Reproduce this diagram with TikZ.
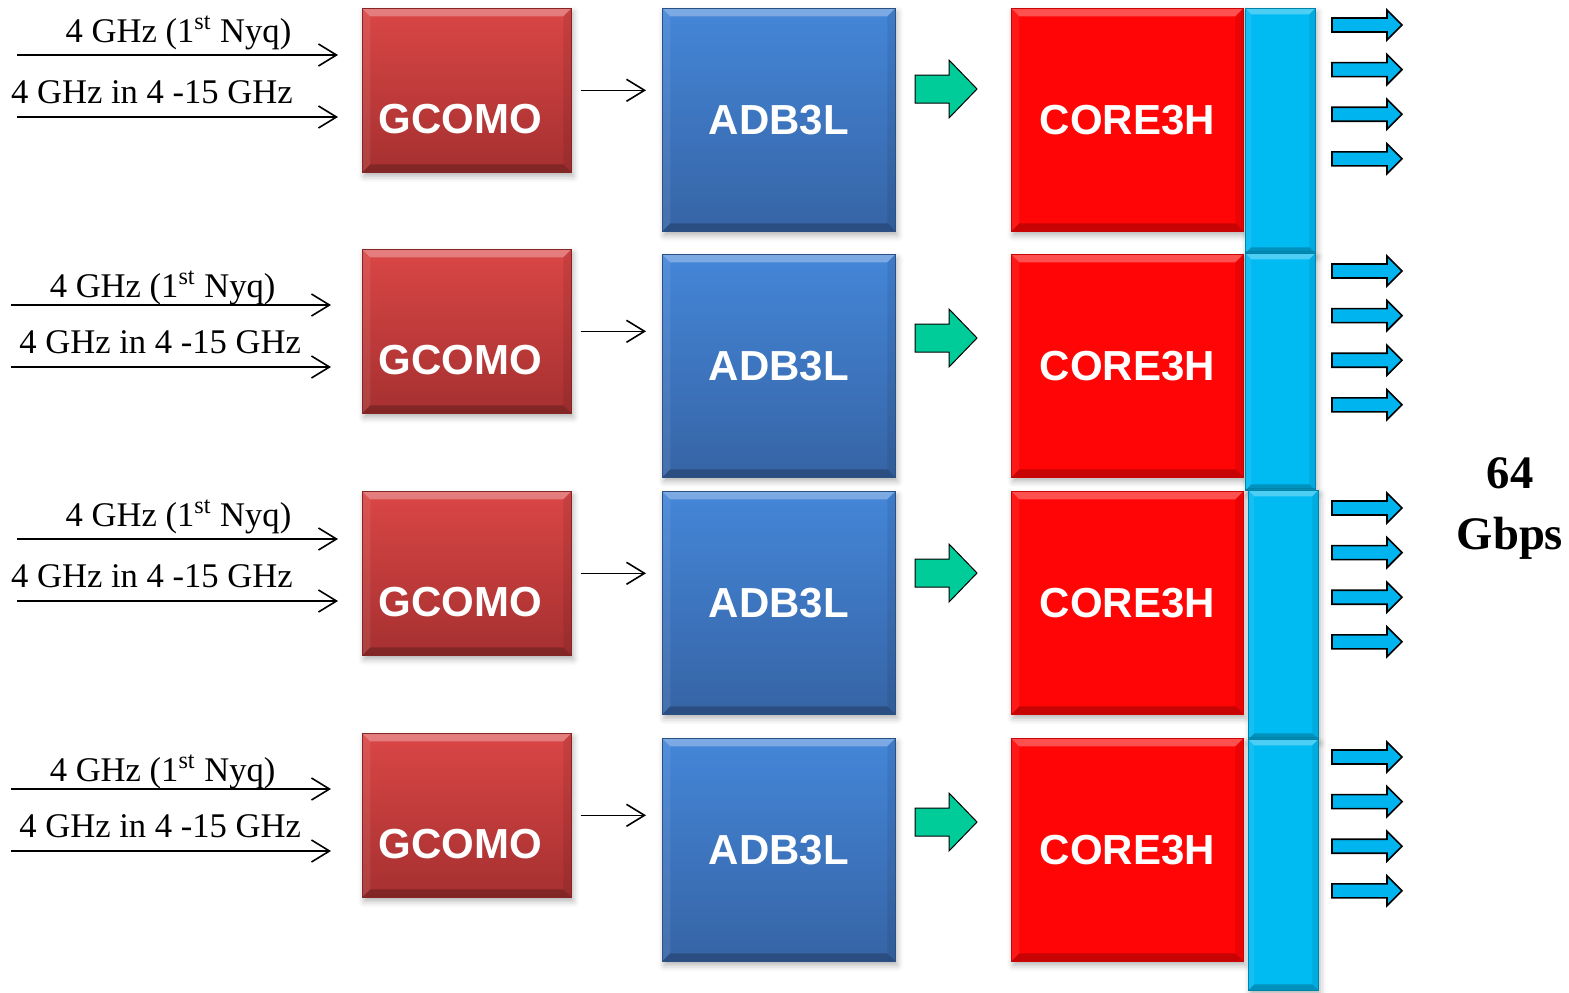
\documentclass[tikz,border=0pt]{standalone}
\usepackage{fontspec}
\setmainfont{Liberation Serif}
\newfontfamily\boxfont{Liberation Sans}
\usetikzlibrary{arrows.meta,shadows.blur}

\definecolor{gcomotop}{RGB}{218,70,70}
\definecolor{gcomobot}{RGB}{166,48,48}
\definecolor{adbtop}{RGB}{68,134,216}
\definecolor{adbbot}{RGB}{54,100,165}
\definecolor{corered}{RGB}{255,5,5}
\definecolor{buscyan}{RGB}{0,186,242}
\definecolor{outcyan}{RGB}{0,180,240}
\definecolor{handgreen}{RGB}{0,204,153}

\tikzset{
  bevel/.style={path picture={
    \path (path picture bounding box.north west) coordinate (bv1)
          (path picture bounding box.north east) coordinate (bv2)
          (path picture bounding box.south east) coordinate (bv3)
          (path picture bounding box.south west) coordinate (bv4);
    \fill[white,opacity=.3] (bv1) -- (bv2) -- ([shift={(-#1,-#1)}]bv2) -- ([shift={(#1,-#1)}]bv1) -- cycle;
    \fill[black,opacity=.22] (bv4) -- (bv3) -- ([shift={(-#1,#1)}]bv3) -- ([shift={(#1,#1)}]bv4) -- cycle;
    \fill[black,opacity=.08] (bv2) -- (bv3) -- ([shift={(-#1,#1)}]bv3) -- ([shift={(-#1,-#1)}]bv2) -- cycle;
    \fill[white,opacity=.08] (bv1) -- (bv4) -- ([shift={(#1,#1)}]bv4) -- ([shift={(#1,-#1)}]bv1) -- cycle;
  }},
  bevel/.default=4pt,
  pics/blockarrow/.style args={#1/#2/#3/#4}{code={
    % length / head length / shaft half width / head half width
    \path[pic actions] (0,-#3) -- ({#1-#2},-#3) -- ({#1-#2},-#4) -- (#1,0)
      -- ({#1-#2},#4) -- ({#1-#2},#3) -- (0,#3) -- cycle;
  }},
}

\begin{document}
\begin{tikzpicture}[
  x=0.5pt, y=-0.5pt,
  block/.style={rectangle, inner sep=0pt, line width=.3pt, bevel,
    blur shadow={shadow xshift=1pt, shadow yshift=-2pt, shadow blur radius=3pt, shadow opacity=30}},
  gcomo/.style={block, minimum width=104.5pt, minimum height=82pt,
    top color=gcomotop, bottom color=gcomobot, draw=gcomobot!80!black},
  adb/.style={block, blocktext, minimum width=116.5pt, minimum height=111.5pt,
    top color=adbtop, bottom color=adbbot, draw=adbbot!80!black},
  core/.style={block, blocktext, minimum width=116pt, minimum height=111.5pt,
    fill=corered, draw=corered!80!black},
  bus/.style={block, bevel=3pt, minimum width=35pt, fill=buscyan, draw=buscyan!70!black},
  blocktext/.style={font=\boxfont\fontsize{21}{25}\selectfont\bfseries, text=white},
  sig/.style={-{Straight Barb[length=9pt,width=11pt]}, line width=.8pt},
  siglabel/.style={font=\fontsize{17.3}{20}\selectfont, anchor=base, inner sep=0pt},
  outarrow/.style={fill=outcyan, draw=black, line width=.8pt},
  handoff/.style={fill=handgreen, draw=black, line width=.5pt},
  rate/.style={font=\fontsize{23.3}{28}\selectfont\bfseries, anchor=base, inner sep=0pt}
]
  \useasboundingbox (0,0) rectangle (1569,992);

  % one row per channel: GCOMO -> ADB3L -> CORE3H -> bus
  \foreach \r/\gy/\ay/\gr/\bx/\bt/\bb/\bu in {1/8/8/89/1245/8/253/25,
      2/249/254/338/1245/253/490/271, 3/491/491/573/1248/490/739/508,
      4/733/738/822/1248/739/990/757}{
    \node[gcomo, anchor=north west] (g\r) at (362,\gy) {};
    \node[blocktext] (gt\r) at ([xshift=-3.25pt,yshift=-14.5pt]g\r.center) {GCOMO};
    \node[adb, anchor=north west] (a\r) at (662,\ay) {ADB3L};
    \node[core, anchor=north west] (c\r) at (1011,\ay) {CORE3H};
    \node[bus, anchor=north west, minimum height={(\bb-\bt)*0.5pt}] (b\r) at (\bx,\bt) {};
    \draw[sig, shorten <=4.5pt, shorten >=8pt] (g\r.east) -- (g\r.east -| a\r.west);
    \pic[handoff] at (915,\gr) {blockarrow=62/28/14/29};
    \foreach \k in {0,...,3}
      \pic[outarrow] at (1332,{\bu+44.6*\k}) {blockarrow=70/15/7/15};
  }

  % inputs
  \foreach \r/\xs/\ty/\by/\sh/\pt/\pb/\lt/\lb in {1/17/55/117/12/.468/.391/6.5/7,
      2/11/305/367/15.5/.432/.425/4/7, 3/17/539/601/12/.468/.391/6.5/7,
      4/11/789/851/15.5/.432/.425/4/7}{
    \coordinate (ia\r) at (\xs,\ty);
    \coordinate (ib\r) at (\xs,\by);
    \draw[sig, shorten >=\sh pt] (ia\r) -- node[siglabel, pos=\pt, yshift=\lt pt]
      {4 GHz (1\textsuperscript{st} Nyq)} (ia\r -| g\r.west);
    \draw[sig, shorten >=\sh pt] (ib\r) -- node[siglabel, pos=\pb, yshift=\lb pt]
      {4 GHz in 4 -15 GHz} (ib\r -| g\r.west);
  }

  \node[rate] (rate1) at (1510,488) {64};
  \node[rate] (rate2) at (1510,549) {Gbps};
\end{tikzpicture}
\end{document}
